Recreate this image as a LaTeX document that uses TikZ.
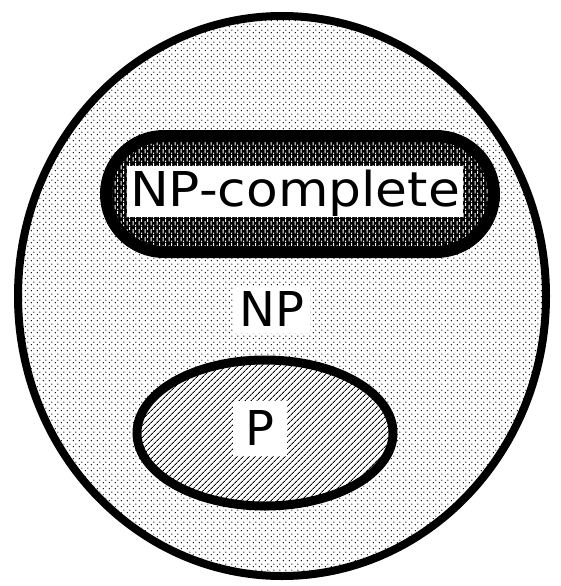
\documentclass[tikz,border=0pt]{standalone}
\usepackage{fontspec}
\setmainfont{DejaVu Sans}
\usetikzlibrary{patterns.meta}

% light stipple for the NP region
\tikzdeclarepattern{
  name=stipple,
  type=uncolored,
  bottom left={(0pt,0pt)},
  top right={(6pt,6pt)},
  tile size={(6pt,6pt)},
  code={
    \fill (1.5pt,1.5pt) circle (0.8pt);
    \fill (4.5pt,4.5pt) circle (0.8pt);
  }
}
% staggered slots, drawn in white over black, for NP-complete
\tikzdeclarepattern{
  name=slots,
  type=uncolored,
  bottom left={(0pt,0pt)},
  top right={(6pt,8pt)},
  tile size={(6pt,8pt)},
  code={
    \fill (0.6pt,0.6pt) rectangle (1.9pt,5.4pt);
    \fill (3.6pt,4.6pt) rectangle (4.9pt,8pt);
    \fill (3.6pt,0pt) rectangle (4.9pt,1.4pt);
  }
}

\tikzset{
  region/.style={draw=black, line width=#1},
  label/.style={fill=white, inner xsep=#1, font=\fontsize{48}{50}\selectfont,
    text height=35pt, text depth=0pt},
}

\begin{document}
\begin{tikzpicture}[x=1pt, y=-1pt]
  \useasboundingbox (0,0) rectangle (561,586);
  \fill[white] (0,0) rectangle (561,586);

  % NP: the outer region
  \fill[white] (282,296) ellipse [x radius=264, y radius=280];
  \fill[pattern=stipple, pattern color=black] (282,296) ellipse [x radius=264, y radius=280];
  \draw[region=8pt] (282,296) ellipse [x radius=264, y radius=280];

  % NP-complete
  \fill[black, rounded corners=58pt] (106,136) rectangle (494,252);
  \fill[pattern=slots, pattern color=white, rounded corners=58pt] (106,136) rectangle (494,252);
  \draw[region=12pt, rounded corners=58pt] (106,136) rectangle (494,252);

  % P
  \fill[white] (265,433) ellipse [x radius=128, y radius=73];
  \fill[pattern={Lines[angle=45, distance=4pt, line width=0.9pt]}, pattern color=black]
    (265,433) ellipse [x radius=128, y radius=73];
  \draw[region=9pt] (265,433) ellipse [x radius=128, y radius=73];

  % labels
  \node[label=3pt, inner ysep=6pt, text depth=4pt, xscale=1.08] (npc) at (295,191) {NP-complete};
  \node[label=6pt, inner ysep=6pt] (np) at (272,309) {NP};
  \node[label=13pt, inner ysep=10pt] (p) at (260,428) {P};
\end{tikzpicture}
\end{document}
